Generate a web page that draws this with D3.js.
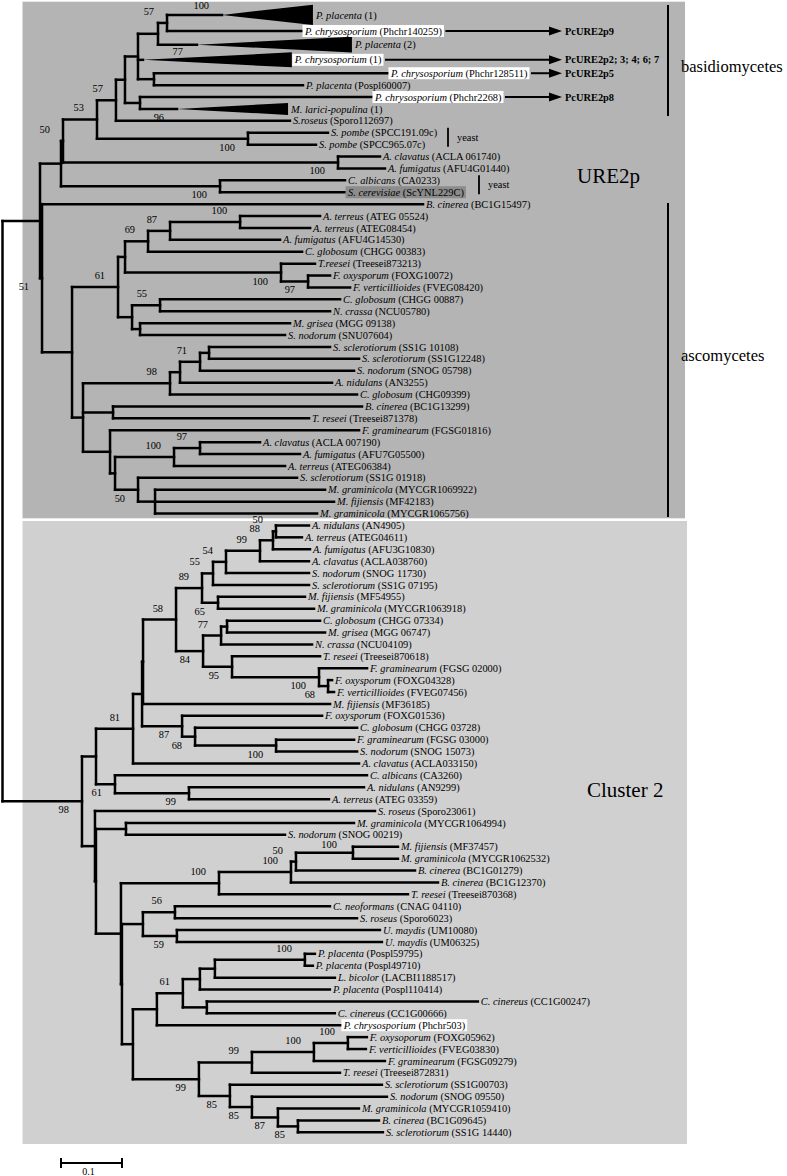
<!DOCTYPE html>
<html><head><meta charset="utf-8">
<script src="https://cdn.jsdelivr.net/npm/d3@7"></script>
<style>
body{margin:0;background:#fff;}
svg{display:block;}
text{font-family:"Liberation Serif","Times New Roman",Times,serif;}
</style></head><body>
<svg id="chart" width="787" height="1176"></svg>
<script>
// ================= DATA =================
// Edges: [node id, parent id, branch length (subst./site), bootstrap support]
const rootEdge = [["root", null, 0, null]];

const ure2pEdges = [
  ["u_R1","root",0.0615,null],
  ["u_top","u_R1",0.0344,null],
  ["u_50","u_top",0.0033,50],
  ["u_53","u_50",0.0557,53],
  ["u_57b","u_53",0.0311,57],
  ["u_e","u_57b",0.0148,null],
  ["u_c","u_e",0.0213,null],
  ["u_b","u_c",0.0328,null],
  ["u_a","u_b",0.0148,57],
  ["Pp1","u_a",0.0902,100],
  ["Phchr140259","u_a",0.2213,null],
  ["Pp2","u_b",0.0639,null],
  ["Pc1","u_c",0.0082,77],
  ["u_d","u_c",0.0262,null],
  ["Phchr128511","u_d",0.3836,null],
  ["Pospl60007","u_d",0.2443,null],
  ["u_f","u_e",0.0246,null],
  ["Phchr2268","u_f",0.3803,null],
  ["Ml1","u_f",0.0607,96],
  ["Sporo112697","u_57b",0.2852,null],
  ["u_sp","u_53",0.2475,100],
  ["SPCC191.09c","u_sp",0.1311,null],
  ["SPCC965.07c","u_sp",0.1115,null],
  ["u_asp","u_50",0.4508,100],
  ["ACLA 061740","u_asp",0.0689,null],
  ["AFU4G01440","u_asp",0.0770,null],
  ["u_ca","u_top",0.2607,100],
  ["CA0233","u_ca",0.2049,null],
  ["ScYNL229C","u_ca",0.2049,null],
  ["u_asco","u_R1",0.0033,51],
  ["BC1G15497","u_asco",0.6246,null],
  ["u_72","u_asco",0.0492,null],
  ["u_61","u_72",0.0754,61],
  ["u_69","u_61",0.0115,null],
  ["u_x","u_69",0.0377,69],
  ["u_87","u_x",0.0361,87],
  ["u_100a","u_87",0.1148,100],
  ["ATEG 05524","u_100a",0.1311,null],
  ["ATEG08454","u_100a",0.1148,null],
  ["AFU4G14530","u_87",0.1803,null],
  ["CHGG 00383","u_x",0.2525,null],
  ["u_T","u_69",0.2557,100],
  ["Treesei873213","u_T",0.0557,null],
  ["u_97","u_T",0.0443,97],
  ["FOXG10072","u_97",0.0361,null],
  ["FVEG08420","u_97",0.0689,null],
  ["u_55","u_61",0.0230,null],
  ["u_cn","u_55",0.0459,55],
  ["CHGG 00887","u_cn",0.2951,null],
  ["NCU05780","u_cn",0.2787,null],
  ["u_ms","u_55",0.0131,null],
  ["MGG 09138","u_ms",0.2459,null],
  ["SNU07604","u_ms",0.2377,null],
  ["u_83","u_72",0.0180,null],
  ["u_98","u_83",0.1426,98],
  ["u_an","u_98",0.0164,null],
  ["u_71","u_an",0.0328,71],
  ["u_ss","u_71",0.0148,null],
  ["SS1G 10108","u_ss",0.1984,null],
  ["SS1G12248","u_ss",0.2459,null],
  ["SNOG 05798","u_71",0.2525,null],
  ["AN3255","u_an",0.2492,null],
  ["CHG09399","u_98",0.3066,null],
  ["u_bt","u_83",0.0492,null],
  ["BC1G13299","u_bt",0.4082,null],
  ["Treesei871378","u_bt",0.3213,null],
  ["u_p","u_83",0.0443,null],
  ["FGSG01816","u_p",0.4082,null],
  ["u_q","u_p",0.0082,null],
  ["u_100c","u_q",0.0967,100],
  ["u_97b","u_100c",0.0426,97],
  ["ACLA 007190","u_97b",0.0984,null],
  ["AFU7G05500","u_97b",0.1639,null],
  ["ATEG06384","u_100c",0.1820,null],
  ["u_50c","u_q",0.0377,50],
  ["SS1G 01918","u_50c",0.2607,null],
  ["u_m","u_50c",0.0279,null],
  ["MYCGR1069922","u_m",0.2787,null],
  ["MF42183","u_m",0.2934,null],
  ["MYCGR1065756","u_m",0.2656,null]
];

const cluster2Edges = [
  ["c_98","root",0.1303,98],
  ["c_outer","c_98",0.0230,null],
  ["c_81","c_outer",0.0607,81],
  ["c_mid","c_81",0.0148,null],
  ["c_58","c_mid",0.0016,null],
  ["c_84","c_58",0.0541,58],
  ["c_89","c_84",0.0426,89],
  ["c_55","c_89",0.0180,55],
  ["c_54","c_55",0.0213,54],
  ["c_99","c_54",0.0557,99],
  ["c_88","c_99",0.0213,88],
  ["c_50","c_88",0.0049,50],
  ["AN4905","c_50",0.0541,null],
  ["ATEG04611","c_50",0.0426,null],
  ["AFU3G10830","c_88",0.0607,null],
  ["ACLA038760","c_99",0.0803,null],
  ["SNOG 11730","c_54",0.1361,null],
  ["SS1G 07195","c_55",0.1574,null],
  ["c_65","c_89",0.0262,65],
  ["MF54955","c_65",0.1426,null],
  ["MYCGR1063918","c_65",0.1574,null],
  ["c_cgT","c_84",0.0443,84],
  ["c_77","c_cgT",0.0295,77],
  ["c_cg","c_77",0.0098,null],
  ["CHGG 07334","c_cg",0.1525,null],
  ["MGG 06747","c_cg",0.1607,null],
  ["NCU04109","c_77",0.1492,null],
  ["c_95","c_cgT",0.0475,95],
  ["Treesei870618","c_95",0.1443,null],
  ["c_100F","c_95",0.1426,100],
  ["FGSG 02000","c_100F",0.0787,null],
  ["c_68","c_100F",0.0148,68],
  ["FOXG04328","c_68",0.0066,null],
  ["FVEG07456","c_68",0.0098,null],
  ["MF36185","c_58",0.3066,null],
  ["c_87","c_mid",0.0656,87],
  ["FOXG01536","c_87",0.2295,null],
  ["c_68b","c_87",0.0213,68],
  ["CHGG 03728","c_68b",0.2656,null],
  ["c_100b","c_68b",0.1328,100],
  ["FGSG 03000","c_100b",0.1279,null],
  ["SNOG 15073","c_100b",0.1328,null],
  ["ACLA033150","c_81",0.3705,null],
  ["c_61","c_outer",0.0311,61],
  ["CA3260","c_61",0.4131,null],
  ["c_99b","c_61",0.1213,99],
  ["AN9299","c_99b",0.2869,null],
  ["ATEG 03359","c_99b",0.2295,null],
  ["c_bot1","c_98",0.0213,null],
  ["Sporo23061","c_bot1",0.4590,null],
  ["c_bot2","c_bot1",0.0016,null],
  ["c_ms","c_bot2",0.0492,null],
  ["MYCGR1064994","c_ms",0.3738,null],
  ["SNOG 00219","c_ms",0.2607,null],
  ["c_big","c_bot2",0.0410,null],
  ["c_100big","c_big",0.1607,100],
  ["c_100g","c_100big",0.1180,100],
  ["c_50g","c_100g",0.0082,50],
  ["c_100h","c_50g",0.0934,100],
  ["MF37457","c_100h",0.0738,null],
  ["MYCGR1062532","c_100h",0.0738,null],
  ["BC1G01279","c_50g",0.1951,null],
  ["BC1G12370","c_100g",0.2410,null],
  ["Treesei870368","c_100big",0.3098,null],
  ["c_big2","c_big",0.0016,null],
  ["c_cu","c_big2",0.0344,null],
  ["c_56","c_cu",0.0525,56],
  ["CNAG 04110","c_56",0.2541,null],
  ["Sporo6023","c_56",0.2984,null],
  ["c_59","c_cu",0.0557,59],
  ["UM10080","c_59",0.3328,null],
  ["UM06325","c_59",0.3361,null],
  ["c_b2","c_big2",0.0180,null],
  ["c_61c","c_b2",0.0393,null],
  ["c_pp","c_61c",0.0426,61],
  ["c_p2","c_pp",0.0279,null],
  ["c_p3","c_p2",0.0246,null],
  ["c_100p","c_p3",0.1475,100],
  ["Pospl59795","c_100p",0.0164,null],
  ["Pospl49710","c_100p",0.0131,null],
  ["LACBI1188517","c_p3",0.1967,null],
  ["Pospl110414","c_p2",0.2131,null],
  ["c_cc","c_pp",0.0393,null],
  ["CC1G00247","c_cc",0.4443,null],
  ["CC1G00666","c_cc",0.2098,null],
  ["Phchr503","c_61c",0.3016,null],
  ["c_99c","c_b2",0.1082,99],
  ["c_99d","c_99c",0.0869,99],
  ["c_100e","c_99d",0.1016,100],
  ["c_100f","c_100e",0.0557,100],
  ["FOXG05962","c_100f",0.0311,null],
  ["FVEG03830","c_100f",0.0295,null],
  ["FGSG09279","c_100e",0.1164,null],
  ["Treesei872831","c_99d",0.1443,null],
  ["c_85a","c_99c",0.0508,85],
  ["SS1G00703","c_85a",0.2492,null],
  ["c_85b","c_85a",0.0361,85],
  ["SNOG 09550","c_85b",0.2213,null],
  ["c_87c","c_85b",0.0426,87],
  ["MYCGR1059410","c_87c",0.1328,null],
  ["c_85c","c_87c",0.0328,85],
  ["BC1G09645","c_85c",0.1328,null],
  ["SS1G 14440","c_85c",0.1393,null]
];

// Collapsed clades: [leaf id, depth spanned by the collapsed triangle]
const collapsedClades = [["Pp1",0.149],["Pp2",0.254],["Pc1",0.244],["Ml1",0.182]];

// Leaf labels: [id, species (italic), accession]
const leafLabels = [
  ["Pp1","P. placenta","1"],["Phchr140259","P. chrysosporium","Phchr140259"],
  ["Pp2","P. placenta","2"],["Pc1","P. chrysosporium","1"],
  ["Phchr128511","P. chrysosporium","Phchr128511"],["Pospl60007","P. placenta","Pospl60007"],
  ["Phchr2268","P. chrysosporium","Phchr2268"],["Ml1","M. larici-populina","1"],
  ["Sporo112697","S.roseus","Sporo112697"],["SPCC191.09c","S. pombe","SPCC191.09c"],
  ["SPCC965.07c","S. pombe","SPCC965.07c"],["ACLA 061740","A. clavatus","ACLA 061740"],
  ["AFU4G01440","A. fumigatus","AFU4G01440"],["CA0233","C. albicans","CA0233"],
  ["ScYNL229C","S. cerevisiae","ScYNL229C"],["BC1G15497","B. cinerea","BC1G15497"],
  ["ATEG 05524","A. terreus","ATEG 05524"],["ATEG08454","A. terreus","ATEG08454"],
  ["AFU4G14530","A. fumigatus","AFU4G14530"],["CHGG 00383","C. globosum","CHGG 00383"],
  ["Treesei873213","T.reesei","Treesei873213"],["FOXG10072","F. oxysporum","FOXG10072"],
  ["FVEG08420","F. verticillioides","FVEG08420"],["CHGG 00887","C. globosum","CHGG 00887"],
  ["NCU05780","N. crassa","NCU05780"],["MGG 09138","M. grisea","MGG 09138"],
  ["SNU07604","S. nodorum","SNU07604"],["SS1G 10108","S. sclerotiorum","SS1G 10108"],
  ["SS1G12248","S. sclerotiorum","SS1G12248"],["SNOG 05798","S. nodorum","SNOG 05798"],
  ["AN3255","A. nidulans","AN3255"],["CHG09399","C. globosum","CHG09399"],
  ["BC1G13299","B. cinerea","BC1G13299"],["Treesei871378","T. reseei","Treesei871378"],
  ["FGSG01816","F. graminearum","FGSG01816"],["ACLA 007190","A. clavatus","ACLA 007190"],
  ["AFU7G05500","A. fumigatus","AFU7G05500"],["ATEG06384","A. terreus","ATEG06384"],
  ["SS1G 01918","S. sclerotiorum","SS1G 01918"],["MYCGR1069922","M. graminicola","MYCGR1069922"],
  ["MF42183","M. fijiensis","MF42183"],["MYCGR1065756","M. graminicola","MYCGR1065756"],
  ["AN4905","A. nidulans","AN4905"],["ATEG04611","A. terreus","ATEG04611"],
  ["AFU3G10830","A. fumigatus","AFU3G10830"],["ACLA038760","A. clavatus","ACLA038760"],
  ["SNOG 11730","S. nodorum","SNOG 11730"],["SS1G 07195","S. sclerotiorum","SS1G 07195"],
  ["MF54955","M. fijiensis","MF54955"],["MYCGR1063918","M. graminicola","MYCGR1063918"],
  ["CHGG 07334","C. globosum","CHGG 07334"],["MGG 06747","M. grisea","MGG 06747"],
  ["NCU04109","N. crassa","NCU04109"],["Treesei870618","T. reseei","Treesei870618"],
  ["FGSG 02000","F. graminearum","FGSG 02000"],["FOXG04328","F. oxysporum","FOXG04328"],
  ["FVEG07456","F. verticillioides","FVEG07456"],["MF36185","M. fijiensis","MF36185"],
  ["FOXG01536","F. oxysporum","FOXG01536"],["CHGG 03728","C. globosum","CHGG 03728"],
  ["FGSG 03000","F. graminearum","FGSG 03000"],["SNOG 15073","S. nodorum","SNOG 15073"],
  ["ACLA033150","A. clavatus","ACLA033150"],["CA3260","C. albicans","CA3260"],
  ["AN9299","A. nidulans","AN9299"],["ATEG 03359","A. terreus","ATEG 03359"],
  ["Sporo23061","S. roseus","Sporo23061"],["MYCGR1064994","M. graminicola","MYCGR1064994"],
  ["SNOG 00219","S. nodorum","SNOG 00219"],["MF37457","M. fijiensis","MF37457"],
  ["MYCGR1062532","M. graminicola","MYCGR1062532"],["BC1G01279","B. cinerea","BC1G01279"],
  ["BC1G12370","B. cinerea","BC1G12370"],["Treesei870368","T. reesei","Treesei870368"],
  ["CNAG 04110","C. neoformans","CNAG 04110"],["Sporo6023","S. roseus","Sporo6023"],
  ["UM10080","U. maydis","UM10080"],["UM06325","U. maydis","UM06325"],
  ["Pospl59795","P. placenta","Pospl59795"],["Pospl49710","P. placenta","Pospl49710"],
  ["LACBI1188517","L. bicolor","LACBI1188517"],["Pospl110414","P. placenta","Pospl110414"],
  ["CC1G00247","C. cinereus","CC1G00247"],["CC1G00666","C. cinereus","CC1G00666"],
  ["Phchr503","P. chrysosporium","Phchr503"],["FOXG05962","F. oxysoporum","FOXG05962"],
  ["FVEG03830","F. verticillioides","FVEG03830"],["FGSG09279","F. graminearum","FGSG09279"],
  ["Treesei872831","T. reesei","Treesei872831"],["SS1G00703","S. sclerotiorum","SS1G00703"],
  ["SNOG 09550","S. nodorum","SNOG 09550"],["MYCGR1059410","M. graminicola","MYCGR1059410"],
  ["BC1G09645","B. cinerea","BC1G09645"],["SS1G 14440","S. sclerotiorum","SS1G 14440"]
];

// Highlighted labels (white: P. chrysosporium; grey: S. cerevisiae)
const whiteLabels = ["Phchr140259","Pc1","Phchr128511","Phchr2268","Phchr503"];
const greyLabels = ["ScYNL229C"];
// PcURE2p names linked by arrows
const pcLinks = [["Phchr140259","PcURE2p9"],["Pc1","PcURE2p2; 3; 4; 6; 7"],["Phchr128511","PcURE2p5"],["Phchr2268","PcURE2p8"]];
// Yeast brackets: [first leaf, last leaf, text]
const yeastMarks = [["SPCC191.09c","SPCC965.07c","yeast"],["CA0233","ScYNL229C","yeast"]];
// Group brackets: [first leaf, last leaf, name]
const groupMarks = [["Pp1","Ml1","basidiomycetes"],["BC1G15497","MYCGR1065756","ascomycetes"]];
const clusterNames = ["URE2p","Cluster 2"];
const scaleBarValue = 0.1;

// ================= LAYOUT =================
const svg = d3.select("#chart");
const PX_PER_UNIT = 610, ROOT_X = 2.5, ROW = 11.9, TOP = 4.8, FS = 10.4;
const rowWeight = new Map([["Pp1",1.7],["Pp2",1.3],["Pc1",1.25],["Ml1",1.0]]);
const belowSupport = new Set(["u_sp","u_asp","u_ca","Ml1","u_asco","u_T","u_97","u_50c",
  "c_65","c_cgT","c_95","c_100F","c_68","c_87","c_68b","c_100b","c_61","c_99b","c_98",
  "c_59","c_99c","c_85a","c_85b","c_87c","c_85c"]);
const supportNudge = new Map([["Pc1",[53,3]],["Pp1",[0,2]],["c_100h",[-3,3]]]);

const x = d3.scaleLinear().domain([0,1]).range([ROOT_X, ROOT_X + PX_PER_UNIT]);
const yRow = d3.scaleLinear().domain([0,1]).range([TOP, TOP + ROW]);

const rows = [...rootEdge, ...ure2pEdges, ...cluster2Edges];
const root = d3.stratify().id(d => d[0]).parentId(d => d[1])(rows);
root.eachBefore(n => { n.dist = n.parent ? n.parent.dist + n.data[2] : 0; });
let cum = 0;
root.leaves().forEach(l => { const w = rowWeight.get(l.id) || 1; l.yv = yRow(cum + w/2); l.w = w; cum += w; });
root.eachAfter(n => { if (n.children) n.yv = (n.children[0].yv + n.children[n.children.length-1].yv)/2; });
const byId = new Map(root.descendants().map(n => [n.id, n]));
const collapsed = new Map(collapsedClades);
const labelMap = new Map(leafLabels.map(d => [d[0], [d[1], d[2]]]));

// panels
svg.append("rect").attr("x",22.5).attr("y",1.7).attr("width",662.5).attr("height",516.6).attr("fill","#b4b4b4");
svg.append("rect").attr("x",22.5).attr("y",521).attr("width",664.5).attr("height",623).attr("fill","#d0d0d0");

const gTree = svg.append("g").attr("fill","none").attr("stroke","#000").attr("stroke-width",2.5).attr("stroke-linecap","square");
root.descendants().filter(n => n.parent).forEach(n => {
  gTree.append("path").attr("d", `M${x(n.parent.dist)},${n.yv}H${x(n.dist)}`);
});
root.descendants().filter(n => n.children).forEach(n => {
  const a = n.children[0].yv, b = n.children[n.children.length-1].yv;
  gTree.append("path").attr("d", `M${x(n.dist)},${a}V${b}`);
});
collapsed.forEach((ext, id) => {
  const n = byId.get(id), x0 = x(n.dist), x1 = x(n.dist + ext), h = n.w * 6;
  svg.append("polygon").attr("points", `${x0},${n.yv} ${x1},${n.yv-h} ${x1},${n.yv+h}`).attr("fill","#000");
});

// leaf labels
const gLab = svg.append("g").attr("font-size",FS).attr("fill","#000");
const labelEnds = new Map();
root.leaves().forEach(n => {
  const tip = collapsed.has(n.id) ? x(n.dist + collapsed.get(n.id)) : x(n.dist);
  const [sp, acc] = labelMap.get(n.id);
  const boxed = whiteLabels.includes(n.id) || greyLabels.includes(n.id);
  const t = gLab.append("text").attr("x", tip + 3).attr("y", n.yv + 3.6).style("white-space","pre");
  t.append("tspan").attr("font-style","italic").text(sp);
  t.append("tspan").text(" (" + acc + ")");
  const bb = t.node().getBBox();
  let right = bb.x + bb.width;
  if (boxed) {
    const fill = whiteLabels.includes(n.id) ? "#fff" : "#8c8c8c";
    gLab.insert("rect","text").attr("x", tip + 0.5).attr("y", n.yv - 6).attr("width", right - tip + 1.5).attr("height", 12).attr("fill", fill);
    right += 2;
  }
  labelEnds.set(n.id, right);
});

// bootstrap values
const gBoot = svg.append("g").attr("font-size",FS).attr("text-anchor","end");
root.descendants().filter(n => n.data[3] != null).forEach(n => {
  const below = belowSupport.has(n.id);
  const nd = supportNudge.get(n.id) || [0,0];
  gBoot.append("text").attr("x", x(n.dist) - 13 + nd[0]).attr("y", n.yv + (below ? 12 : -8) + nd[1]).text(n.data[3]);
});

// arrows to PcURE2p names
const ARROW_TIP = 562;
pcLinks.forEach(([id, name]) => {
  const n = byId.get(id), y = n.yv, x0 = labelEnds.get(id) + 1.5;
  svg.append("line").attr("x1", x0).attr("x2", ARROW_TIP - 10).attr("y1", y).attr("y2", y).attr("stroke","#000").attr("stroke-width",2);
  svg.append("polygon").attr("points", `${ARROW_TIP-13},${y-4.5} ${ARROW_TIP},${y} ${ARROW_TIP-13},${y+4.5}`).attr("fill","#000");
  svg.append("text").attr("x", ARROW_TIP + 3).attr("y", y + 3.6).attr("font-size",FS).attr("font-weight","bold").text(name);
});

// yeast brackets
const yeastX = [448, 479];
yeastMarks.forEach(([a, b, txt], i) => {
  const ya = byId.get(a).yv, yb = byId.get(b).yv;
  svg.append("line").attr("x1", yeastX[i]).attr("x2", yeastX[i]).attr("y1", ya - 5).attr("y2", yb + 2).attr("stroke","#000").attr("stroke-width",1.8);
  svg.append("text").attr("x", yeastX[i] + 9).attr("y", (ya+yb)/2 + 2).attr("font-size",FS).text(txt);
});

// group brackets
const groupY = [[5, 116, 72], [203, 517, 361]];
groupMarks.forEach(([a, b, txt], i) => {
  const [y1, y2, ty] = groupY[i];
  svg.append("line").attr("x1",668).attr("x2",668).attr("y1",y1).attr("y2",y2).attr("stroke","#000").attr("stroke-width",2);
  svg.append("text").attr("x",681).attr("y",ty).attr("font-size",16.5).text(txt);
});

// cluster names
svg.append("text").attr("x",577).attr("y",183).attr("font-size",21).text(clusterNames[0]);
svg.append("text").attr("x",587).attr("y",797).attr("font-size",21).text(clusterNames[1]);

// scale bar
const sbX = 61, sbY = 1163, sbW = x(scaleBarValue) - x(0);
const gSb = svg.append("g").attr("stroke","#000").attr("stroke-width",2);
gSb.append("line").attr("x1",sbX).attr("x2",sbX+sbW).attr("y1",sbY).attr("y2",sbY);
gSb.append("line").attr("x1",sbX).attr("x2",sbX).attr("y1",sbY-5).attr("y2",sbY+5);
gSb.append("line").attr("x1",sbX+sbW).attr("x2",sbX+sbW).attr("y1",sbY-5).attr("y2",sbY+5);
svg.append("text").attr("x", sbX + sbW/2 - 3).attr("y", 1175).attr("font-size",10).attr("text-anchor","middle").text(String(scaleBarValue));
</script>
</body></html>
